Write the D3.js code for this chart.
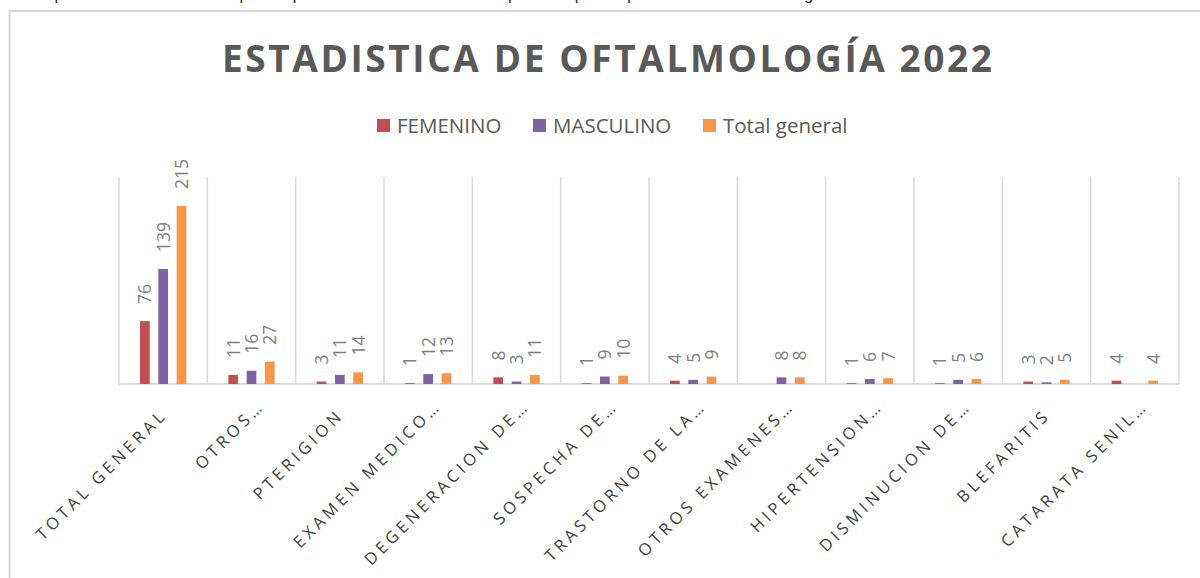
<!DOCTYPE html>
<html>
<head>
<meta charset="utf-8">
<script src="https://cdn.jsdelivr.net/npm/d3@7"></script>
<style>
  html, body { margin: 0; padding: 0; background: #ffffff; }
  svg { display: block; }
</style>
</head>
<body>
<svg id="chart" width="1200" height="578"></svg>
<script>
// ---- data ----
const categories = [
  "TOTAL GENERAL", "OTROS…", "PTERIGION", "EXAMEN MEDICO…", "DEGENERACION DE…",
  "SOSPECHA DE…", "TRASTORNO DE LA…", "OTROS EXAMENES…", "HIPERTENSION…",
  "DISMINUCION DE…", "BLEFARITIS", "CATARATA SENIL…"
];
const seriesNames = ["FEMENINO", "MASCULINO", "Total general"];
const femenino  = [76, 11, 3, 1, 8, 1, 4, null, 1, 1, 3, 4];
const masculino = [139, 16, 11, 12, 3, 9, 5, 8, 6, 5, 2, null];
const totalGeneral = [215, 27, 14, 13, 11, 10, 9, 8, 7, 6, 5, 4];
const seriesColors = ["#C0504D", "#8064A2", "#F79646"];
const titleText = "ESTADISTICA DE OFTALMOLOGÍA 2022";
const yDomain = [0, 250];

// ---- layout ----
const svg = d3.select("#chart");
const plot = { left: 119, right: 1179, top: 177, bottom: 384 };

// page text line cut off at the top edge (only descenders visible)
svg.append("text")
  .attr("x", 2).attr("y", 0)
  .attr("font-family", "Liberation Sans, Arial, sans-serif")
  .attr("font-size", 16).attr("fill", "#222")
  .text("cuenta para contar con la cuenta para la presentación de los servicios que se requieren para el área de oftalmología");

// chart border
svg.append("rect")
  .attr("x", 9.5).attr("y", 11)
  .attr("width", 1300).attr("height", 700)
  .attr("fill", "#fff").attr("stroke", "#d9d9d9").attr("stroke-width", 2);

// title
svg.append("text")
  .attr("x", 222).attr("y", 72)
  .attr("font-family", "Open Sans, sans-serif").attr("font-weight", 700)
  .attr("font-size", 37).attr("fill", "#595959")
  .attr("textLength", 770).attr("lengthAdjust", "spacing")
  .text(titleText);

// legend
const legendPos = [
  { sx: 377, tx: 397 },
  { sx: 533, tx: 553 },
  { sx: 703, tx: 723 }
];
seriesNames.forEach((name, i) => {
  svg.append("rect")
    .attr("x", legendPos[i].sx).attr("y", 119)
    .attr("width", 13).attr("height", 13)
    .attr("fill", seriesColors[i]);
  svg.append("text")
    .attr("x", legendPos[i].tx).attr("y", 133)
    .attr("font-family", "Open Sans, sans-serif")
    .attr("font-size", 20.5).attr("fill", "#595959")
    .text(name);
});

// scales
const x0 = d3.scaleBand().domain(categories).range([plot.left, plot.right]).padding(0);
const x1 = d3.scaleBand().domain(seriesNames).range([0, x0.bandwidth()])
  .paddingInner(0.47).paddingOuter(1.148);
const y = d3.scaleLinear().domain(yDomain).range([plot.bottom, plot.top]);

// vertical grid lines at category boundaries
const boundaries = categories.map(c => x0(c)).concat([plot.right]);
svg.append("g").selectAll("line").data(boundaries).join("line")
  .attr("x1", d => d).attr("x2", d => d)
  .attr("y1", plot.top).attr("y2", plot.bottom)
  .attr("stroke", "#d9d9d9").attr("stroke-width", 1.5);

// baseline
svg.append("line")
  .attr("x1", plot.left).attr("x2", plot.right)
  .attr("y1", plot.bottom).attr("y2", plot.bottom)
  .attr("stroke", "#d9d9d9").attr("stroke-width", 2);

// bars
const seriesData = [femenino, masculino, totalGeneral];
const rows = [];
categories.forEach((c, ci) => {
  seriesNames.forEach((s, si) => {
    const v = seriesData[si][ci];
    if (v !== null) rows.push({ c, s, si, v });
  });
});

const barsG = svg.append("g");
barsG.selectAll("rect").data(rows).join("rect")
  .attr("x", d => x0(d.c) + x1(d.s))
  .attr("y", d => y(d.v))
  .attr("width", x1.bandwidth())
  .attr("height", d => y(0) - y(d.v))
  .attr("fill", d => seriesColors[d.si]);

// data labels, rotated -90
barsG.selectAll("text").data(rows).join("text")
  .attr("transform", d => {
    const cx = x0(d.c) + x1(d.s) + x1.bandwidth() / 2;
    return `translate(${cx + 6.5},${y(d.v) - 17}) rotate(-90)`;
  })
  .attr("font-family", "Open Sans, sans-serif")
  .attr("font-size", 17.5).attr("fill", "#7f7f7f")
  .attr("text-anchor", "start")
  .text(d => d.v);

// x-axis labels via d3 axis
const xAxis = d3.axisBottom(x0).tickSize(0).tickPadding(0);
const axG = svg.append("g").attr("transform", `translate(0,${plot.bottom})`).call(xAxis);
axG.select(".domain").remove();
axG.selectAll(".tick text")
  .attr("font-family", "Open Sans, sans-serif")
  .attr("font-size", 16.5)
  .attr("fill", "#404040")
  .attr("letter-spacing", 3.9)
  .attr("text-anchor", "end")
  .attr("y", 0).attr("dy", 0)
  .attr("transform", d => {
    const extra = d.endsWith("…") ? 13 : 0;
    const ex = 5 + extra * 0.707, ey = 32 - extra * 0.707;
    return `translate(${ex},${ey}) rotate(-45)`;
  });
</script>
</body>
</html>
